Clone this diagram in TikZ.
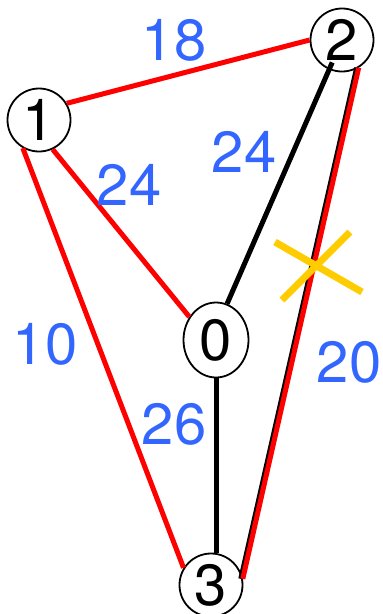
\documentclass[tikz,border=0pt]{standalone}
\usepackage{fontspec}
\setmainfont{TeX Gyre Heros}
\usetikzlibrary{calc, shapes.geometric}
\definecolor{wblue}{HTML}{3366FF}
\definecolor{xyellow}{HTML}{FFCC00}

\begin{document}
\begin{tikzpicture}[
    x=1pt, y=-1pt,
    vertex/.style={circle, draw=black, line width=1.8pt, minimum size=63pt, inner sep=0pt, font=\fontsize{58}{60}\selectfont},
    hub/.style={ellipse, draw=black, line width=1.8pt, minimum width=65pt, minimum height=75pt, inner sep=0pt, font=\fontsize{58}{60}\selectfont},
    redge/.style={red, line width=5pt},
    bedge/.style={black, line width=5pt},
    weight/.style={text=wblue, font=\fontsize{58}{60}\selectfont},
    cross/.style={xyellow, line width=7pt}
]
\useasboundingbox (0,0) rectangle (383,614);

% Vertices
\node[vertex] (n1) at (39,120) {1};
\node[vertex] (n2) at (342,40) {2};
\node[hub] (n0) at (216,340) {0};
\node[vertex] (n3) at (211,585) {3};

% Black edges
\draw[bedge] (n0.73) -- ($(n2.center)!0.085!(n0.73)$);
\draw[bedge] (n0.south) -- (n0.south |- n3.north);
\draw[bedge] ([xshift=-2pt]n2.-59) -- ([xshift=-2pt]n3.11);

% Red edges
\draw[redge] (n1.31) -- (n2.180);
\draw[redge] (n1.-65) -- (n0.139);
\draw[redge] (n1.-120) -- (n3.148);
\draw[redge] (n2.-59) -- (n3.11);

% Weights
\node[weight] (w12) at (174,40) {18};
\node[weight] (w10) at (129,185) {24};
\node[weight] (w20) at (244,152) {24};
\node[weight] (w13) at (45,344) {10};
\node[weight] (w03) at (174,424) {26};
\node[weight] (w23) at (349,362) {20};

% Cut mark
\coordinate (cut) at (316,266);
\draw[cross] ($(cut)+(-41,-24)$) -- ($(cut)+(46,26)$);
\draw[cross] ($(cut)+(34,-34)$) -- ($(cut)+(-34,34)$);

\end{tikzpicture}
\end{document}
